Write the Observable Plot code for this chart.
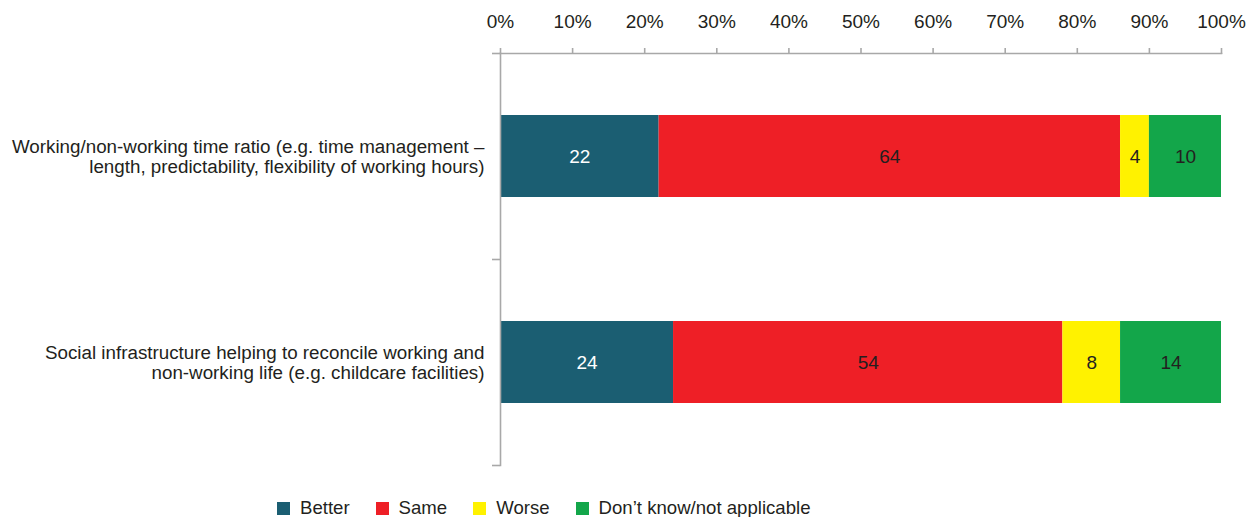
<!DOCTYPE html>
<html>
<head>
<meta charset="utf-8">
<script src="https://cdn.jsdelivr.net/npm/d3@7"></script>
<script src="https://cdn.jsdelivr.net/npm/@observablehq/plot@0.6"></script>
<style>
  body { margin: 0; background: #fff; font-family: "Liberation Sans", Arial, sans-serif; color: #231f20; }
  #legend { display: flex; gap: 26px; margin-left: 277px; padding-top: 9px; font-size: 18.6px; line-height: 18px; }
  .item { display: flex; align-items: center; }
  .sw { width: 13px; height: 13px; margin-right: 10px; }
</style>
</head>
<body>
<div id="chart"></div>
<div id="legend"></div>
<script>
const categories = [
  "Working/non-working time ratio (e.g. time management –\nlength, predictability, flexibility of working hours)",
  "Social infrastructure helping to reconcile working and\nnon-working life (e.g. childcare facilities)"
];
const responses = ["Better", "Same", "Worse", "Don’t know/not applicable"];
const colors = ["#1b5e72", "#ee1f26", "#fff200", "#13a64a"];
const valuesCat1 = [22, 64, 4, 10];
const valuesCat2 = [24, 54, 8, 14];
const xTicks = [0, 10, 20, 30, 40, 50, 60, 70, 80, 90, 100];

const seriesValues = [valuesCat1, valuesCat2];
const data = [];
categories.forEach((c, i) => {
  responses.forEach((r, j) => data.push({category: c, response: r, value: seriesValues[i][j]}));
});

const axisColor = "#a8a8a8";

const plot = Plot.plot({
  width: 1255,
  height: 490,
  marginTop: 53,
  marginLeft: 500,
  marginRight: 34,
  marginBottom: 25,
  style: {fontFamily: "'Liberation Sans', Arial, sans-serif", color: "#231f20", background: "#fff"},
  x: {domain: [0, 100], axis: null},
  y: {domain: categories, paddingInner: 0.6, paddingOuter: 0.3, axis: null},
  color: {domain: responses, range: colors},
  marks: [
    Plot.barX(data, Plot.stackX({x: "value", y: "category", fill: "response", order: null})),
    Plot.text(data, Plot.stackX({
      x: "value", y: "category", z: "response", order: null,
      text: d => String(d.value),
      fill: {value: d => d.response === "Better" ? "#ffffff" : "#231f20", scale: null},
      fontSize: 19
    })),
    Plot.frame({anchor: "top", stroke: axisColor, strokeWidth: 1.6}),
    Plot.frame({anchor: "left", stroke: axisColor, strokeWidth: 1.6}),
    Plot.axisX({anchor: "top", ticks: xTicks, tickFormat: d => d + "%", tickSize: 6, tickPadding: 20,
      fontSize: 19, stroke: axisColor, strokeWidth: 1.6, fill: "#231f20", label: null}),
    Plot.axisY({anchor: "left", tickSize: 0, tickPadding: 16, fontSize: 18.8, lineHeight: 1.07,
      fill: "#231f20", label: null}),
    Plot.ruleY(categories, {y: d => d, x1: 0, x2: 0, insetLeft: -8, dy: 103, stroke: axisColor, strokeWidth: 1.6}),
    Plot.ruleY(categories.slice(0, 1), {y: d => d, x1: 0, x2: 0, insetLeft: -8, dy: -103, stroke: axisColor, strokeWidth: 1.6})
  ]
});
document.getElementById("chart").appendChild(plot);

const legend = document.getElementById("legend");
responses.forEach((r, i) => {
  const it = document.createElement("div");
  it.className = "item";
  const sw = document.createElement("span");
  sw.className = "sw";
  sw.style.background = colors[i];
  const t = document.createElement("span");
  t.textContent = r;
  it.appendChild(sw);
  it.appendChild(t);
  legend.appendChild(it);
});
</script>
</body>
</html>
